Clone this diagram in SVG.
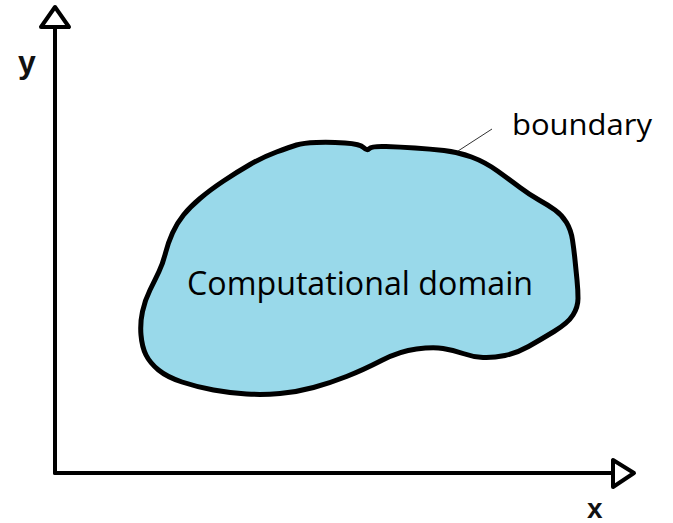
<svg xmlns="http://www.w3.org/2000/svg" width="673" height="523" viewBox="0 0 673 523">
<style>
.axis{stroke:#000;stroke-width:4;fill:none;stroke-linecap:round}
.head{stroke:#000;stroke-width:4;fill:#fff;stroke-linejoin:round}
.axlbl{font-family:"Liberation Sans",Arial,sans-serif;font-weight:bold;fill:#111}
.lbl{font-family:"Open Sans","Noto Sans",sans-serif;fill:#000}
</style>
<rect width="673" height="523" fill="#fff"/>
<g id="domain">
<path d="M316.5,142.5 Q330,142 345,143 Q360,144 363.5,147.5 Q367,151 369.5,148.5 Q372,146 386,146.5 Q400,147 415,148 Q430,149 444,150.5 Q458,152 471.5,157 Q485,162 497.5,171 Q510,180 520,187.5 Q530,195 539,200 Q548,205 555,210 Q562,215 566.5,222.5 Q571,230 572.5,240 Q574,250 575,260 Q576,270 577,280 Q578,290 578,298.5 Q578,307 573,315 Q568,323 554,331.5 Q540,340 528.5,346.5 Q517,353 505,355.5 Q493,358 483,357.5 Q473,357 463,353.5 Q453,350 443,348.5 Q433,347 416.5,349 Q400,351 381.5,360.5 Q363,370 346.5,376.5 Q330,383 313.5,387.5 Q297,392 280,393.5 Q263,395 246.5,394 Q230,393 213.5,390 Q197,387 182,382 Q167,377 158.5,370 Q150,363 146,355 Q142,347 141,335 Q140,323 142.5,311.5 Q145,300 150,290 Q155,280 159,271.5 Q163,263 165.5,253 Q168,243 172.5,233 Q177,223 183.5,215 Q190,207 200,198.5 Q210,190 223.5,181 Q237,172 250,164.5 Q263,157 276.5,152 Q290,147 296.5,145 Q303,143 316.5,142.5 Z" fill="#99d9ea" stroke="#000" stroke-width="5" stroke-linejoin="round"/>
<text class="lbl" x="187" y="295" font-size="32" textLength="346" lengthAdjust="spacingAndGlyphs">Computational domain</text>
</g>
<g id="connectors">
<line class="axis" x1="55" y1="27" x2="55" y2="473"/>
<line class="axis" x1="55" y1="473" x2="613" y2="473"/>
<polygon class="head" points="55,7 69,27 41,27"/>
<polygon class="head" points="634,473 613,460 613,487"/>
<line x1="492" y1="129" x2="458" y2="151" stroke="#333" stroke-width="1"/>
</g>
<g id="y-label"><text class="axlbl" x="18" y="73" font-size="32">y</text></g>
<g id="x-label"><text class="axlbl" x="587" y="518" font-size="28">x</text></g>
<g id="boundary-label"><text class="lbl" x="512" y="135" font-size="30" textLength="140" lengthAdjust="spacingAndGlyphs">boundary</text></g>
</svg>
